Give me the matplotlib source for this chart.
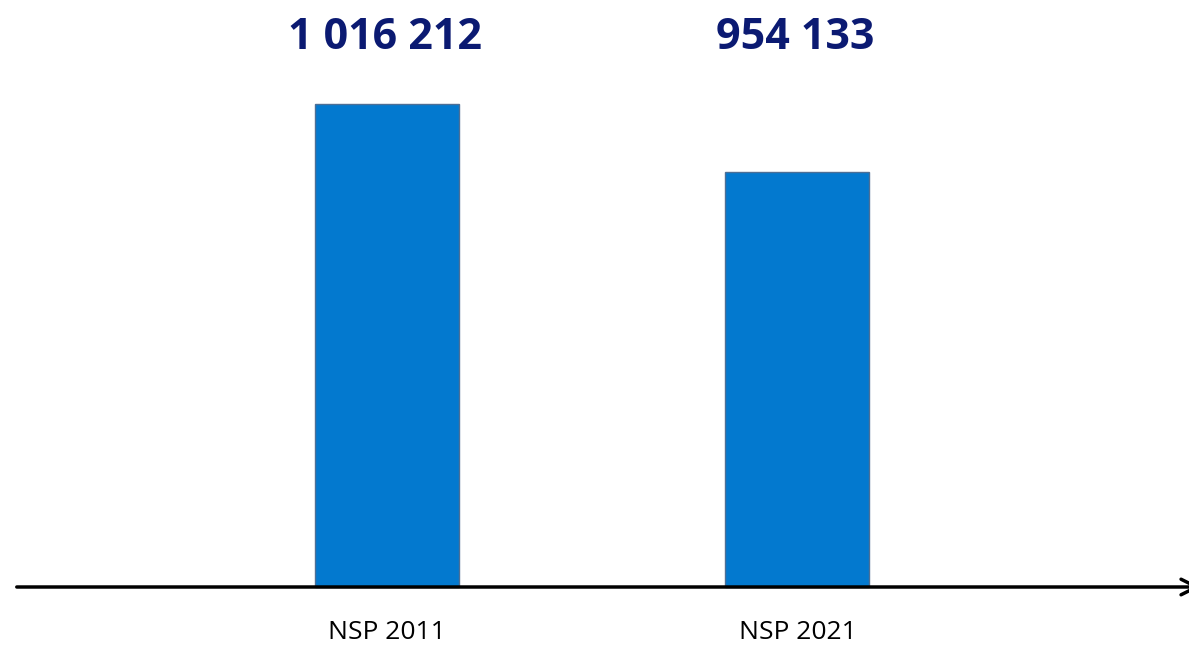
import numpy as np
import matplotlib.pyplot as plt

# data
categories = ["NSP 2011", "NSP 2021"]
values = [1016212, 954133]
value_labels = ["1 016 212", "954 133"]

base = 575000  # axis starts here, not at zero

plt.rcParams['font.family'] = ['Open Sans', 'DejaVu Sans']

fig = plt.figure(figsize=(11.89, 6.48), dpi=100)
ax = fig.add_axes([0, 0, 1, 1])

x = np.arange(len(categories))
heights = np.array(values) - base
ax.bar(x, heights, bottom=base, width=0.351, color='#0379CF',
       edgecolor='#4d6f96', linewidth=1.0, zorder=2)

# limits chosen so bars land where they do in the reference
ax.set_xlim(-0.943, 1.954)
ax.set_ylim(base - 55700, base + 536000)

# value labels on top
for xi, lab in zip(x, value_labels):
    ax.text(xi - 0.005, base + 502000, lab, ha='center', va='center',
            fontsize=31, fontweight='bold', color='#0b1a72')

# category labels under the axis
for xi, lab in zip(x, categories):
    ax.text(xi, base - 42000, lab, ha='center', va='center',
            fontsize=19, color='black')

# baseline with arrow, head cut by the right edge
ax.annotate('', xy=(1.012, base), xytext=(14 / 1189, base),
            xycoords=('axes fraction', 'data'), textcoords=('axes fraction', 'data'),
            arrowprops=dict(arrowstyle='->', lw=2.5, color='black', mutation_scale=28),
            annotation_clip=False, zorder=3)

ax.axis('off')
fig.savefig('out.png', dpi=100)
